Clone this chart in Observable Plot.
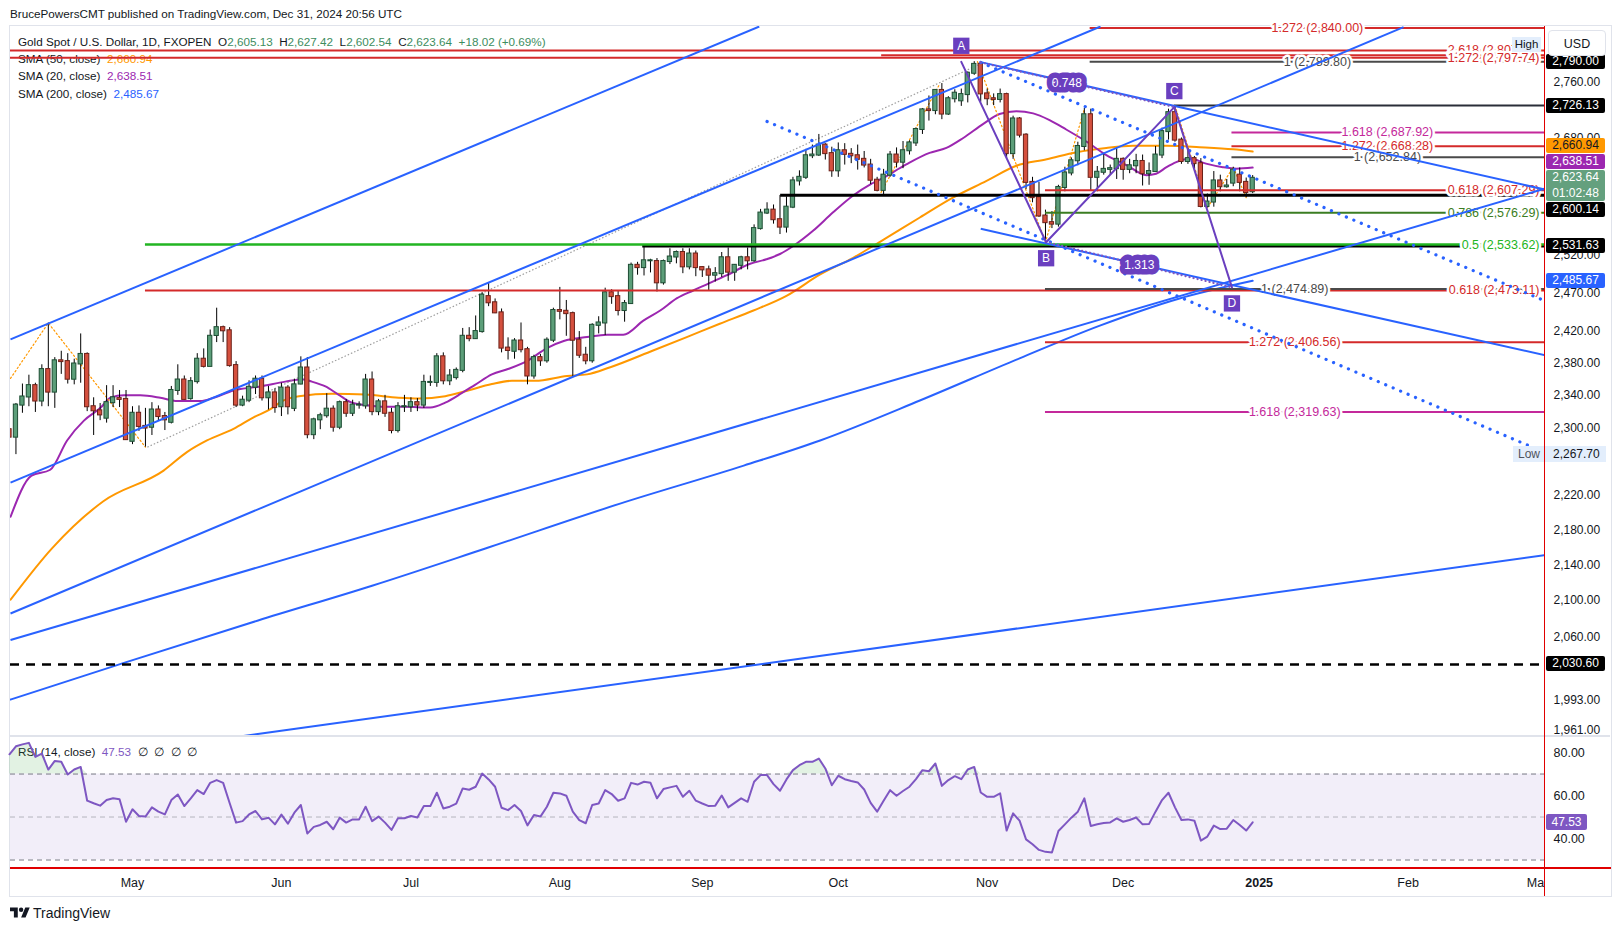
<!DOCTYPE html>
<html>
<head>
<meta charset="utf-8">
<script src="https://cdn.jsdelivr.net/npm/d3@7"></script>
<script src="https://cdn.jsdelivr.net/npm/@observablehq/plot@0.6"></script>
<style>
  html,body{margin:0;padding:0;background:#fff;}
  #wrap{position:relative;width:1620px;height:931px;overflow:hidden;font-family:"Liberation Sans",Arial,sans-serif;color:#131722;}
  .abs{position:absolute;white-space:nowrap;}
  #wrap svg.plotsvg{position:absolute;left:0;}
</style>
</head>
<body>
<div id="wrap"></div>
<script>
// ================= DATA =================
const firstBar = "2024-04-04";
const holidays = ["2024-12-25"];

const opens = [
2298,2289,2328,2338,2352,2333,2372,2344,2383,2382,
2360,2379,2391,2326,2321,2312,2331,2336,2335,2284,
2318,2302,2301,2322,2314,2307,2346,2359,2336,2357,
2385,2376,2415,2425,2421,2377,2328,2334,2350,2360,
2337,2343,2326,2349,2324,2354,2374,2292,2310,2315,
2323,2301,2331,2318,2328,2327,2359,2320,2332,2318,
2297,2326,2326,2331,2328,2356,2356,2388,2358,2362,
2371,2414,2411,2420,2465,2457,2444,2399,2395,2408,
2397,2364,2387,2383,2409,2447,2446,2443,2409,2390,
2383,2428,2431,2470,2465,2447,2456,2506,2503,2512,
2511,2483,2511,2517,2523,2504,2521,2503,2500,2493,
2495,2516,2497,2506,2516,2512,2555,2576,2580,2567,
2557,2584,2620,2625,2655,2656,2670,2658,2634,2662,
2657,2655,2650,2642,2621,2607,2628,2656,2646,2662,
2673,2692,2720,2719,2748,2714,2736,2733,2742,2773,
2786,2743,2736,2735,2742,2658,2707,2684,2618,2597,
2572,2563,2561,2611,2631,2648,2668,2713,2625,2632,
2636,2637,2650,2636,2641,2647,2630,2633,2656,2689,
2716,2677,2647,2651,2644,2585,2591,2620,2612,2617,
2628,2618,2605.13];
const highs = [
2305,2330,2354,2365,2355,2378,2431,2387,2395,2392,
2385,2417,2393,2337,2330,2352,2352,2346,2346,2326,
2327,2324,2331,2327,2319,2351,2378,2364,2362,2392,
2398,2422,2450,2427,2425,2382,2339,2358,2364,2364,
2351,2348,2355,2352,2360,2388,2387,2312,2318,2342,
2327,2333,2335,2334,2332,2366,2369,2335,2340,2324,
2331,2340,2337,2336,2365,2364,2392,2393,2372,2374,
2424,2425,2440,2470,2483,2462,2449,2412,2411,2431,
2400,2390,2391,2412,2450,2477,2460,2445,2420,2400,
2430,2439,2476,2474,2472,2460,2509,2510,2531,2514,
2515,2513,2528,2525,2528,2528,2525,2504,2505,2503,
2523,2529,2507,2518,2529,2560,2581,2590,2587,2600,
2598,2625,2634,2664,2670,2685,2672,2667,2673,2672,
2665,2670,2661,2650,2625,2636,2661,2666,2675,2676,
2694,2722,2740,2749,2758,2739,2749,2750,2775,2790,
2788,2750,2743,2750,2744,2711,2709,2686,2625,2618,
2580,2578,2614,2639,2652,2674,2722,2721,2640,2657,
2642,2665,2652,2650,2657,2656,2645,2668,2694,2721,
2726,2680,2665,2654,2651,2602,2633,2628,2622,2639,
2638,2624,2627.42];
const lows = [
2281,2268,2318,2326,2319,2326,2326,2324,2366,2354,
2353,2355,2320,2291,2309,2306,2325,2325,2285,2280,
2296,2277,2291,2308,2297,2305,2340,2334,2334,2354,
2374,2376,2406,2406,2375,2325,2326,2331,2341,2333,
2322,2318,2314,2316,2320,2353,2287,2286,2298,2312,
2295,2298,2313,2314,2323,2323,2315,2315,2313,2293,
2294,2319,2319,2320,2324,2351,2350,2353,2352,2359,
2368,2407,2410,2418,2452,2443,2393,2384,2385,2393,
2353,2360,2376,2380,2406,2435,2414,2362,2386,2378,
2380,2417,2415,2455,2440,2432,2455,2493,2492,2496,
2471,2480,2507,2508,2495,2500,2491,2490,2472,2484,
2490,2485,2485,2500,2500,2510,2553,2574,2561,2547,
2549,2582,2613,2622,2651,2654,2649,2625,2625,2642,
2644,2635,2638,2615,2605,2601,2625,2638,2637,2656,
2668,2685,2704,2713,2706,2712,2730,2725,2730,2770,
2731,2726,2726,2730,2651,2650,2680,2608,2590,2570,
2537,2555,2557,2605,2627,2641,2662,2606,2605,2628,
2628,2622,2621,2630,2630,2613,2614,2632,2651,2677,
2674,2643,2643,2637,2583,2583,2584,2605,2610,2612,
2605,2597,2602.54];
const closes = [
2289,2328,2338,2352,2333,2372,2344,2383,2382,2360,
2379,2391,2326,2321,2316,2331,2337,2335,2286,2318,
2302,2300,2322,2314,2310,2346,2359,2335,2357,2385,
2376,2414,2425,2421,2377,2328,2334,2350,2360,2337,
2343,2325,2349,2326,2353,2374,2292,2310,2315,2323,
2301,2331,2318,2328,2328,2359,2320,2332,2318,2297,
2326,2326,2331,2328,2356,2356,2388,2358,2364,2371,
2414,2411,2420,2467,2457,2444,2399,2396,2408,2397,
2364,2387,2383,2409,2447,2446,2443,2409,2390,2383,
2428,2431,2470,2465,2447,2456,2506,2503,2512,2512,
2483,2511,2517,2523,2504,2521,2503,2500,2493,2495,
2516,2497,2506,2516,2512,2555,2576,2580,2567,2557,
2584,2620,2625,2655,2656,2670,2658,2634,2662,2657,
2655,2650,2642,2621,2607,2628,2656,2646,2662,2673,
2692,2720,2719,2748,2714,2736,2744,2742,2773,2786,
2743,2736,2735,2742,2658,2707,2684,2618,2597,2572,
2563,2561,2611,2631,2648,2668,2713,2625,2632,2636,
2637,2650,2636,2641,2647,2630,2633,2656,2689,2716,
2677,2647,2651,2644,2585,2591,2620,2612,2613,2635,
2618,2604,2623.64];

const rsiValues = [
79.2,82.9,83.8,84.5,78.0,79.5,72.1,76.1,75.7,69.8,
72.1,73.3,57.6,56.4,55.3,57.9,58.7,58.3,47.8,53.6,
50.5,50.2,54.5,52.5,51.2,57.9,60.5,55.1,58.7,62.5,
60.7,65.9,67.2,65.9,56.5,47.4,48.1,51.2,52.8,48.9,
49.7,46.6,51.1,46.9,52.0,55.6,42.3,45.4,46.3,47.8,
44.3,49.7,47.4,48.9,48.9,54.8,48.1,50.2,47.4,44.0,
49.4,49.4,50.5,49.8,55.1,55.1,61.3,54.0,54.8,56.2,
63.3,62.7,64.1,70.2,67.5,64.1,54.3,53.2,55.6,52.8,
46.1,50.9,50.2,54.8,61.3,61.0,59.9,52.5,48.6,47.1,
55.6,56.3,62.5,60.7,57.6,58.7,65.9,65.1,66.4,65.9,
58.7,63.0,63.8,64.5,59.4,62.2,57.6,56.3,55.1,55.3,
60.0,54.5,56.6,58.7,57.1,66.4,69.5,69.5,65.3,62.2,
67.5,71.8,74.1,75.7,75.7,77.2,72.6,64.8,69.2,67.6,
66.8,66.1,62.8,56.6,52.5,57.6,62.5,59.9,62.1,64.1,
67.6,71.8,71.3,74.9,64.5,67.2,69.0,67.6,72.1,73.3,
61.4,59.4,59.4,61.0,43.7,51.7,48.3,39.6,37.3,34.7,
33.8,33.5,43.5,46.6,49.7,52.5,58.7,45.8,46.6,47.2,
47.5,49.4,47.8,48.6,49.8,46.6,46.8,52.5,57.9,61.3,
54.5,48.6,48.9,48.3,39.0,40.9,46.0,44.4,44.6,48.6,
46.3,43.7,47.53];

// moving averages: [bar index, value]
const sma20Pts = [[0.17,2195],[3.4,2243],[6.3,2250],[8.9,2285],[11.5,2309],[14.1,2325],[15.6,2337],[17.7,2340],[20.2,2340],[23.3,2337],[25.9,2333],[29.5,2333],[31.5,2337],[34.6,2346],[38.7,2351],[42.6,2357],[45.2,2360],[46.7,2357],[48.8,2351],[50.8,2341],[52.9,2331],[55,2328],[57.5,2326],[61.1,2326],[65,2325],[67.3,2331],[69.9,2343],[71.9,2353],[74.5,2366],[77.1,2373],[80.2,2384],[83,2399],[85.6,2408],[89.2,2413],[92.3,2416],[94.8,2416],[97.9,2434],[100.5,2447],[103.1,2463],[105.6,2473],[107.7,2481],[110.8,2493],[114.4,2508],[116.9,2514],[119,2521],[121.1,2532],[124.1,2552],[127.2,2577],[130.3,2600],[132.9,2615],[134.5,2622],[138.5,2643],[142.1,2659],[144.7,2666],[147.3,2680],[150.4,2700],[152.9,2714],[155.5,2718],[158.1,2715],[160.7,2705],[163.2,2692],[166.3,2675],[169.4,2656],[172.5,2642],[175.6,2628],[177.1,2630],[178.7,2639],[180.2,2646],[182.3,2651],[184.8,2644],[187.4,2639],[189.5,2637],[192,2638.51]];
const sma50Pts = [[0.17,2101],[6.6,2159],[14.5,2213],[23.8,2249],[27.4,2271],[30.5,2285],[34.6,2299],[37.7,2313],[40.3,2323],[42.1,2333],[44.7,2339],[49.8,2342],[55,2341],[60.1,2337],[63.2,2336],[67.3,2339],[70.4,2345],[74.5,2354],[77.6,2358],[81.2,2358],[86.1,2364],[89.2,2366],[92.8,2375],[99.4,2396],[104.6,2413],[109.7,2430],[114.9,2447],[120,2466],[125.2,2494],[130.3,2516],[135.5,2543],[140.6,2570],[145.7,2597],[150.9,2620],[155.5,2641],[160.2,2650],[164.8,2660],[169.4,2666],[173.5,2669],[178.7,2669],[183.8,2667],[189,2664],[192,2660.94]];
const sma200Pts = [[0.17,1993.3],[17.8,2032.5],[38.4,2078.2],[56,2116.6],[73.5,2158.5],[94.3,2210.2],[113.4,2254.9],[125.2,2285],[140.6,2333.6],[156,2386.1],[168.4,2427.6],[180.7,2462.6],[192,2485.67]];

// drawn trend lines: [[bar, price],[bar, price]]
const trendLines = [
  [[0.158,2410.1],[115.8,2842.2]],
  [[0.158,2234.8],[168.5,2842.2]],
  [[0.158,2085.8],[215.3,2841.2]],
  [[0.158,2056.8],[237.07,2609.2]],
  [[150.0,2554.7],[237.07,2390.2]],
  [[150.0,2789.3],[237.07,2608.2]],
  [[0.158,1922.3],[237.07,2150.9]]
];
const dottedBlue = [
  [[117.0,2703.4],[234.9,2277.9]],
  [[150.0,2788.8],[237.07,2459.7]]
];
const dottedGray = [[[21.3,2277],[149.8,2786]]];
const zigzags = [
  [[0.158,2361],[6,2431],[21,2277]],
  [[134.6,2604],[143.7,2758]],
  [[149.5,2790],[160,2537],[166,2721]],
  [[180,2726],[185,2583],[189,2639],[191,2597]]
];

// ABCD pattern
const patternNames = ["A","B","C","D"];
const patternPts = [[147.0,2789.8],[160.1,2536.7],[179.9,2724],[188.8,2477]];
const patternSide = ["above","below","above","below"];
const patternDotted = [[[150.0,2789],[179.9,2724]],[[160.1,2537],[188.8,2477]]];
const ratioLabels = ["0.748","1.313"];
const ratioPts = [[163.3,2758.7],[174.5,2506.4]];

// horizontal levels
const levelPrices = [2840.00,2806.5,2799.6,2795.6,2789.80,2726.13,2687.92,2668.28,2652.84,2607.29,2600.14,2576.29,2533.62,2531.63,2474.89,2473.11,2406.56,2319.63,2030.60];
const levelLabels = ["1.272 (2,840.00)","2.618 (2,807.36)","","1.272 (2,797.74)","1 (2,789.80)","","1.618 (2,687.92)","1.272 (2,668.28)","1 (2,652.84)","0.618 (2,607.29)","","0.786 (2,576.29)","0.5 (2,533.62)","","1 (2,474.89)","0.618 (2,473.11)","1.272 (2,406.56)","1.618 (2,319.63)",""];
const levelFrom = [166.9,0,134.7,0,166.9,179.9,188.8,188.8,188.8,160,119.1,160,21,97.8,160,21,160,160,0];
const levelKinds = ["red","red","red","red","gray","black","magenta","red","gray","red","black2","olive","lime","black2","gray","red","red","magenta","dashed"];
const levelGroups = ["top","right","","right","top","","mid","mid","mid","right","","right","right","","low","right","low","low",""];

// axis
const priceTicks = [2760,2680,2520,2470,2420,2380,2340,2300,2220,2180,2140,2100,2060,1993,1961];
const monthStarts = ["2024-05-01","2024-06-03","2024-07-01","2024-08-01","2024-09-02","2024-10-01","2024-11-01","2024-12-02","2025-01-01","2025-02-03","2025-03-03"];
const monthNames = ["May","Jun","Jul","Aug","Sep","Oct","Nov","Dec","2025","Feb","Mar"];
const axisLabelValues = [2790.00,2726.13,2660.94,2638.51,2623.64,2600.14,2531.63,2485.67,2030.60];
const axisLabelKinds = ["level","level","sma50","sma20","last","level","level","sma200","level"];
const lastCountdown = "01:02:48";
const rangeLow = 2267.70, rangeHigh = 2790.00;

// ================= STYLE =================
const FONT = "'Liberation Sans', Arial, sans-serif";
const X0 = 0.158, X1 = 237.07;
const LINE_STYLES = {
  red:{stroke:"#d42a2a",width:2}, gray:{stroke:"#4a4a4a",width:2}, black:{stroke:"#2a2e39",width:2},
  black2:{stroke:"#000",width:3}, magenta:{stroke:"#c4299b",width:2}, olive:{stroke:"#3b7d22",width:2},
  lime:{stroke:"#22b522",width:2.5}, dashed:{stroke:"#000",width:2.5,dash:"9,7"}
};
const LABEL_PLACE = {top:{x:202.0,anchor:"middle"}, right:{x:236.3,anchor:"end"}, mid:{x:212.8,anchor:"middle"}, low:{x:198.5,anchor:"middle"}};
const AXIS_BOX = {level:{bg:"#000",fg:"#fff"}, sma50:{bg:"#ff9800",fg:"#131722"}, sma20:{bg:"#9c27b0",fg:"#fff"}, last:{bg:"#64a07e",fg:"#fff"}, sma200:{bg:"#2962ff",fg:"#fff"}};
const PURPLE = "#6a3fbf";

// ================= BUILD =================
function barIndex(dateStr){
  const start = new Date(firstBar+"T00:00:00Z"), end = new Date(dateStr+"T00:00:00Z");
  let n = 0;
  for (let d = new Date(start); d < end; d.setUTCDate(d.getUTCDate()+1)) {
    const wd = d.getUTCDay(), s = d.toISOString().slice(0,10);
    if (wd !== 0 && wd !== 6 && !holidays.includes(s)) n++;
  }
  return n;
}
const monthIdx = monthStarts.map(barIndex);
const monthLabelOf = new Map(monthIdx.map((i,k)=>[i, monthNames[k]]));

const bars = opens.map((o,i)=>({i, o, h:highs[i], l:lows[i], c:closes[i], up: closes[i] >= o}));
const levels = levelPrices.map((p,k)=>({price:p, label:levelLabels[k], from:Math.max(levelFrom[k], X0), kind:levelKinds[k], group:levelGroups[k]}));
const pattern = patternPts.map((p,k)=>({i:p[0], v:p[1], name:patternNames[k], side:patternSide[k]}));
const ratios = ratioPts.map((p,k)=>({i:p[0], v:p[1], t:ratioLabels[k]}));

const wrap = document.getElementById("wrap");
function div(css, html){ const e = document.createElement("div"); e.className="abs"; e.style.cssText = css; if (html!=null) e.innerHTML = html; wrap.appendChild(e); return e; }

// frame + separators (under plots)
div("left:9px;top:25px;width:1601px;height:870px;border:1px solid #e0e3eb;");
div("left:10px;top:735px;width:1600px;height:2px;background:#e0e3eb;");

// header + legends (beneath svg)
div("left:10px;top:5px;font-size:11.7px;line-height:17px;", "BrucePowersCMT published on TradingView.com, Dec 31, 2024 20:56 UTC");
const G = "#3d8d5e";
div("left:18px;top:33px;font-size:11.7px;line-height:17px;",
  `Gold Spot / U.S. Dollar, 1D, FXOPEN&nbsp;&nbsp;<span>O</span><span style="color:${G}">2,605.13</span>&nbsp;&nbsp;<span>H</span><span style="color:${G}">2,627.42</span>&nbsp;&nbsp;<span>L</span><span style="color:${G}">2,602.54</span>&nbsp;&nbsp;<span>C</span><span style="color:${G}">2,623.64</span>&nbsp;&nbsp;<span style="color:${G}">+18.02 (+0.69%)</span>`);
div("left:18px;top:50px;font-size:11.7px;line-height:17px;", `SMA (50, close)&nbsp;&nbsp;<span style="color:#ff9800">2,660.94</span>`);
div("left:18px;top:67px;font-size:11.7px;line-height:17px;", `SMA (20, close)&nbsp;&nbsp;<span style="color:#9c27b0">2,638.51</span>`);
div("left:18px;top:84.5px;font-size:11.7px;line-height:17px;", `SMA (200, close)&nbsp;&nbsp;<span style="color:#2962ff">2,485.67</span>`);
div("left:18px;top:742.5px;font-size:11.7px;line-height:17px;", `RSI (14, close)&nbsp;&nbsp;<span style="color:#7e57c2">47.53</span>&nbsp;&nbsp;∅&nbsp;&nbsp;∅&nbsp;&nbsp;∅&nbsp;&nbsp;∅`);

// ---------- price pane ----------
const pm = [];
pm.push(Plot.line(sma200Pts, {x:d=>d[0], y:d=>d[1], stroke:"#2962ff", strokeWidth:2, curve:"monotone-x", clip:true}));
pm.push(Plot.line(sma50Pts, {x:d=>d[0], y:d=>d[1], stroke:"#ff9800", strokeWidth:2, curve:"monotone-x", clip:true}));
pm.push(Plot.line(sma20Pts, {x:d=>d[0], y:d=>d[1], stroke:"#9c27b0", strokeWidth:2, curve:"monotone-x", clip:true}));
for (const z of zigzags) pm.push(Plot.line(z, {x:d=>d[0], y:d=>d[1], stroke:"#ff9800", strokeWidth:1.2, strokeDasharray:"1.5,2.5", clip:true}));
pm.push(Plot.link(dottedGray, {x1:d=>d[0][0], y1:d=>d[0][1], x2:d=>d[1][0], y2:d=>d[1][1], stroke:"#9e9e9e", strokeWidth:1.2, strokeDasharray:"1.5,2", clip:true}));
pm.push(Plot.ruleX(bars, {x:"i", y1:"l", y2:"h", stroke:"#000", strokeWidth:1, clip:true}));
pm.push(Plot.rect(bars, {x1:d=>d.i-0.33, x2:d=>d.i+0.33, y1:"o", y2:"c", fill:d=>d.up?"#5c9e79":"#d5503e", stroke:d=>d.up?"#1d4d33":"#6b2018", strokeWidth:1, insetTop:-0.5, insetBottom:-0.5, clip:true}));
for (const kind of Object.keys(LINE_STYLES)) {
  const st = LINE_STYLES[kind];
  const data = levels.filter(d=>d.kind===kind);
  if (!data.length) continue;
  pm.push(Plot.ruleY(data, {y:"price", x1:"from", x2:()=>X1, stroke:st.stroke, strokeWidth:st.width, strokeDasharray:st.dash, clip:true}));
}
for (const [g, place] of Object.entries(LABEL_PLACE)) {
  const data = levels.filter(d=>d.group===g && d.label);
  pm.push(Plot.text(data, {x:()=>place.x, y:"price", text:"label", textAnchor:place.anchor, fill:d=>LINE_STYLES[d.kind].stroke, stroke:"white", strokeWidth:5, strokeLinejoin:"round", paintOrder:"stroke", fontSize:12.5}));
}
pm.push(Plot.link(trendLines, {x1:d=>d[0][0], y1:d=>d[0][1], x2:d=>d[1][0], y2:d=>d[1][1], stroke:"#2962ff", strokeWidth:2, clip:true}));
pm.push(Plot.link(dottedBlue, {x1:d=>d[0][0], y1:d=>d[0][1], x2:d=>d[1][0], y2:d=>d[1][1], stroke:"#2962ff", strokeWidth:3.2, strokeDasharray:"0.1,8", strokeLinecap:"round", clip:true}));
pm.push(Plot.link(patternDotted, {x1:d=>d[0][0], y1:d=>d[0][1], x2:d=>d[1][0], y2:d=>d[1][1], stroke:"#7e57c2", strokeWidth:2.2, strokeDasharray:"0.1,4", strokeLinecap:"round", clip:true}));
pm.push(Plot.line(pattern, {x:"i", y:"v", stroke:PURPLE, strokeWidth:2, clip:true}));
pm.push(Plot.text(ratios, {x:"i", y:"v", text:"t", fill:"white", stroke:PURPLE, strokeWidth:11, strokeLinejoin:"round", paintOrder:"stroke", fontSize:12}));
for (const side of ["above","below"]) {
  const data = pattern.filter(d=>d.side===side), dy = side==="above" ? -16 : 16;
  pm.push(Plot.dot(data, {x:"i", y:"v", dy, symbol:"square", r:9.2, fill:PURPLE}));
  pm.push(Plot.text(data, {x:"i", y:"v", dy, text:"name", fill:"white", fontSize:12}));
}

const pricePlot = Plot.plot({
  width:1620, height:735, marginLeft:10, marginRight:76, marginTop:26, marginBottom:0,
  style:{background:"transparent", fontFamily:FONT, fontSize:"12px", color:"#131722", overflow:"visible"},
  x:{domain:[X0,X1], axis:null},
  y:{type:"log", domain:[1955.9,2842.2], axis:"right", ticks:priceTicks, tickFormat:d3.format(",.2f"), tickSize:0, tickPadding:9, label:null},
  marks:pm
});
pricePlot.classList.add("plotsvg");
pricePlot.style.top = "0px";
wrap.appendChild(pricePlot);

// ---------- RSI pane ----------
const rsiData = rsiValues.map((v,i)=>({i, v}));
const rsiPlot = Plot.plot({
  width:1620, height:159, marginLeft:10, marginRight:76, marginTop:0, marginBottom:28,
  style:{background:"transparent", fontFamily:FONT, fontSize:"12.5px", color:"#131722", overflow:"visible"},
  x:{domain:[X0,X1], ticks:monthIdx, tickFormat:d=>monthLabelOf.get(d), tickSize:0, tickPadding:10, label:null},
  y:{domain:[26.05,87.0], axis:"right", ticks:[40,60,80], tickFormat:d3.format(".2f"), tickSize:0, tickPadding:9, label:null},
  marks:[
    Plot.rect([{a:30,b:70}], {x1:()=>X0, x2:()=>X1, y1:"a", y2:"b", fill:"#7e57c2", fillOpacity:0.1}),
    Plot.areaY(rsiData, {x:"i", y1:()=>70, y2:d=>Math.max(70,d.v), fill:"#4caf50", fillOpacity:0.16}),
    Plot.ruleY([70,30], {stroke:"#787b86", strokeDasharray:"5,4"}),
    Plot.ruleY([50], {stroke:"#787b86", strokeOpacity:0.5, strokeDasharray:"5,4"}),
    Plot.line(rsiData, {x:"i", y:"v", stroke:"#7e57c2", strokeWidth:2})
  ]
});
rsiPlot.classList.add("plotsvg");
rsiPlot.style.top = "737px";
wrap.appendChild(rsiPlot);
rsiPlot.querySelectorAll("text").forEach(t=>{ if (t.textContent==="2025") t.setAttribute("font-weight","bold"); });

// ---------- overlays ----------
const ys = pricePlot.scale("y");
const yOf = v => ys.apply(v);
// hide tick text that spills past the plot's right edge in the time axis
div("left:1545px;top:869px;width:65px;height:26px;background:#fff;");

// axis price boxes (stacked around the last-price box)
const boxes = axisLabelValues.map((v,k)=>({v, kind:axisLabelKinds[k], y:yOf(v)}));
const last = boxes.find(b=>b.kind==="last");
last.top = last.y - 7.5; last.h = 31;
let limit = last.top;
boxes.filter(b=>b.y < last.y).sort((a,b)=>b.y-a.y).forEach(b=>{ b.h=15; b.top = Math.min(b.y-7.5, limit-1-15); limit = b.top; });
limit = last.top + last.h;
boxes.filter(b=>b.y > last.y).sort((a,b)=>a.y-b.y).forEach(b=>{ b.h=15; b.top = Math.max(b.y-7.5, limit+1); limit = b.top + b.h; });
for (const b of boxes) {
  const st = AXIS_BOX[b.kind];
  const txt = d3.format(",.2f")(b.v) + (b.kind==="last" ? `<br>${lastCountdown}` : "");
  div(`left:1546px;top:${b.top}px;width:59px;height:${b.h}px;background:${st.bg};color:${st.fg};font-size:12px;line-height:15.5px;text-align:center;border-radius:2px;`, txt);
}
// High / Low labels
const hy = yOf(rangeHigh) - 17;
div(`left:1512px;top:${hy-7.5}px;width:29px;height:15px;background:#e3eefc;font-size:11.5px;line-height:15px;text-align:center;color:#131722;`, "High");
const ly = yOf(rangeLow);
div(`left:1513px;top:${ly-8}px;width:93px;height:16px;background:#e3eefc;font-size:12px;line-height:16px;color:#131722;`,
  `<span style="position:absolute;left:5px;color:#50535e">Low</span><span style="position:absolute;left:40px">${d3.format(",.2f")(rangeLow)}</span>`);
// USD box
div("left:1548px;top:30px;width:58px;height:26px;background:#fff;border:1px solid #e0e3eb;border-radius:4px;font-size:12.5px;line-height:26px;text-align:center;color:#131722;box-sizing:border-box;", "USD");
// RSI value box
const rsiY = 737 + rsiPlot.scale("y").apply(rsiValues[rsiValues.length-1]);
div(`left:1546px;top:${rsiY-8}px;width:41px;height:16px;background:#7e57c2;color:#fff;font-size:12px;line-height:16px;text-align:center;border-radius:2px;`, "47.53");
// red frame lines (vertical at plot right edge, horizontal under RSI)
div("left:1543.5px;top:26px;width:1.5px;height:870px;background:#e00000;");
div("left:10px;top:867px;width:1601px;height:1.5px;background:#e00000;");

// footer
div("left:10px;top:905px;height:16px;", `<svg width="20" height="16" viewBox="0 0 36 28"><path d="M14 22H7V11H0V4h14v18zM28 22h-8l7.5-18h8L28 22z" fill="#131722"/><circle cx="20" cy="8" r="4" fill="#131722"/></svg>`);
div("left:33px;top:904px;font-size:14px;line-height:18px;color:#131722;", "TradingView");
</script>
</body>
</html>
